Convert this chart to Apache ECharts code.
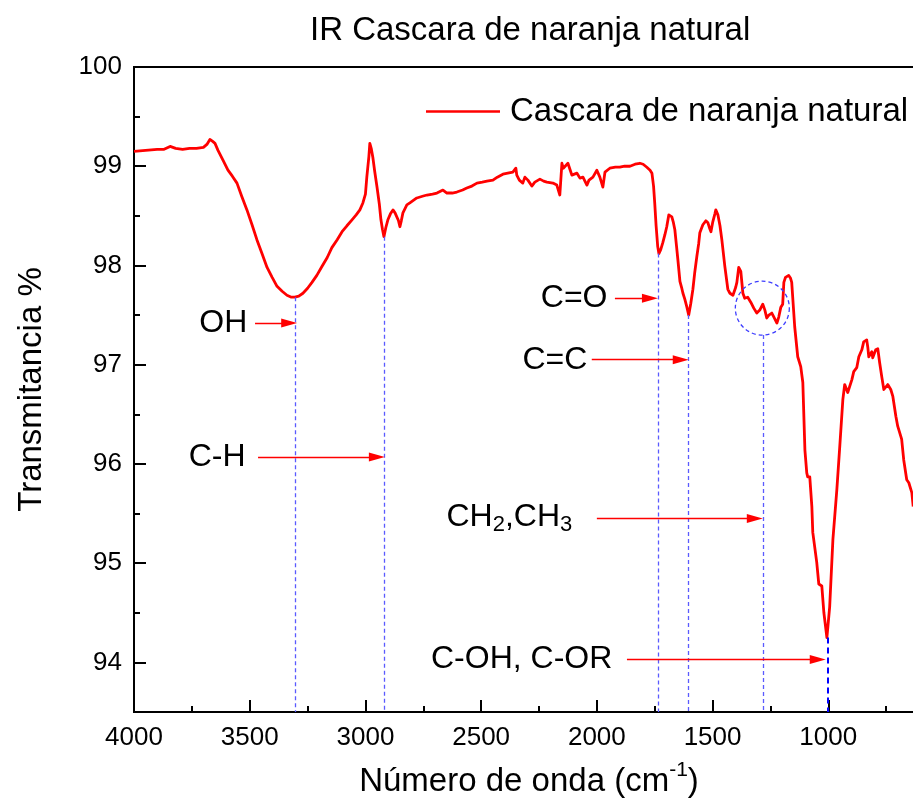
<!DOCTYPE html>
<html>
<head>
<meta charset="utf-8">
<script src="https://cdn.jsdelivr.net/npm/echarts@6/dist/echarts.min.js"></script>
<style>html,body{margin:0;padding:0;background:#fff;}#c{width:913px;height:808px;}</style>
</head>
<body>
<div id="c"></div>
<script>
// ---- data ----
const wavenumber = [4000,3950,3900,3870,3844,3820,3790,3760,3730,3700,3685,3672,3660,3650,3637,3615,3594,3575,3555,3535,3512,3490,3469,3447,3425,3403,3382,3360,3339,3320,3305,3288,3270,3250,3231,3210,3188,3165,3145,3122,3101,3080,3058,3040,3024,3011,3000,2994,2985,2981,2975,2968,2960,2950,2940,2933,2926,2920,2912,2903,2892,2881,2872,2864,2857,2851,2845,2838,2821,2808,2778,2750,2734,2710,2691,2665,2648,2625,2605,2580,2562,2540,2518,2495,2475,2449,2430,2406,2385,2363,2350,2346,2335,2320,2311,2298,2281,2268,2246,2230,2216,2190,2173,2160,2151,2145,2138,2125,2115,2108,2086,2073,2060,2043,2034,2017,2000,1987,1974,1965,1944,1920,1901,1880,1857,1835,1814,1800,1784,1770,1762,1755,1750,1744,1737,1732,1724,1715,1706,1698,1689,1682,1676,1670,1663,1656,1650,1641,1634,1628,1620,1611,1603,1594,1585,1577,1568,1560,1555,1542,1529,1520,1512,1507,1499,1490,1486,1477,1468,1460,1447,1434,1425,1412,1400,1395,1387,1378,1369,1361,1348,1335,1322,1309,1296,1283,1274,1266,1257,1244,1235,1222,1214,1205,1197,1192,1185,1179,1171,1163,1158,1145,1132,1119,1110,1101,1093,1089,1080,1071,1067,1050,1041,1028,1019,1006,994,980,963,950,937,929,916,898,890,877,868,855,847,834,829,825,812,808,795,786,778,769,760,752,743,730,721,708,700,683,674,661,652,639,633];
const transmittance = [99.15,99.16,99.17,99.17,99.20,99.18,99.17,99.18,99.18,99.19,99.22,99.27,99.25,99.23,99.16,99.06,98.96,98.90,98.83,98.70,98.56,98.41,98.26,98.12,97.98,97.88,97.79,97.74,97.70,97.68,97.68,97.69,97.72,97.77,97.83,97.90,97.99,98.08,98.18,98.26,98.34,98.40,98.46,98.51,98.56,98.63,98.72,98.89,99.10,99.23,99.18,99.09,98.95,98.79,98.62,98.46,98.36,98.29,98.38,98.46,98.52,98.56,98.53,98.51,98.45,98.39,98.45,98.53,98.61,98.63,98.68,98.70,98.71,98.72,98.73,98.76,98.73,98.73,98.74,98.76,98.78,98.80,98.83,98.84,98.85,98.86,98.89,98.92,98.93,98.94,98.98,98.91,98.86,98.83,98.89,98.86,98.80,98.84,98.87,98.85,98.84,98.83,98.81,98.71,99.03,98.98,98.96,99.03,98.96,98.91,98.93,98.88,98.89,98.81,98.86,98.89,98.96,98.89,98.79,98.94,98.98,98.99,98.99,99.00,99.00,99.02,99.03,99.02,98.99,98.96,98.93,98.80,98.63,98.40,98.19,98.12,98.16,98.23,98.31,98.39,98.51,98.51,98.49,98.44,98.36,98.20,98.06,97.84,97.78,97.72,97.66,97.58,97.50,97.62,97.76,97.93,98.09,98.22,98.33,98.41,98.45,98.43,98.37,98.34,98.44,98.52,98.56,98.51,98.40,98.26,97.99,97.76,97.72,97.70,97.78,97.83,97.98,97.94,97.72,97.67,97.68,97.63,97.57,97.52,97.55,97.61,97.55,97.47,97.50,97.52,97.48,97.42,97.48,97.58,97.61,97.83,97.88,97.89,97.90,97.87,97.83,97.38,97.08,96.98,96.82,96.14,95.91,95.87,95.87,95.57,95.31,95.01,94.79,94.77,94.50,94.25,94.56,95.24,95.74,96.19,96.65,96.80,96.72,96.85,96.93,96.97,97.08,97.15,97.23,97.25,97.17,97.08,97.13,97.07,97.15,97.16,97.02,96.88,96.75,96.73,96.80,96.75,96.68,96.48,96.38,96.25,96.04,95.84,95.81,95.71,95.57];

const seriesName = 'Cascara de naranja natural';
const chartTitle = 'IR Cascara de naranja natural';
const xTitle = '{n|Número de onda (cm}{p|-1}{n|)}';
const yTitle = 'Transmitancia %';

// annotations (data coordinates)
const peakW    = [3305, 2920, 1736, 1603, 1283, 1003];
const peakTopT = [97.68, 98.29, 98.12, 97.50, 97.30, 94.25];
const annLabels = ['OH', 'C-H', 'C=O', 'C=C', '{a|CH}{b|2}{a|,CH}{b|3}', 'C-OH, C-OR'];
const annLabelW = [3508, 3516, 1952, 2039, 2104, 1931];
const annStartW = [3477, 3464, 1922, 2022, 2000, 1870];
const annTipW   = [3295, 2916, 1736, 1603, 1283, 1011];
const annT      = [97.42, 96.07, 97.67, 97.05, 95.45, 94.03];
const circleCenter = [1285, 97.57];

// ---- layout ----
const W = 913;
const xMin = 500, xMax = 4000, yMin = 93.5, yMax = 100;
const gridLeft = 134, gridRight = -31, gridTop = 67, gridBottom = 96;
const gridW = W - gridLeft - gridRight;
const wPerPx = (xMax - xMin) / gridW;
const headLen = 16;
const FONT = "'Liberation Sans', Arial, Helvetica, sans-serif";

const lineData = wavenumber.map((w, i) => [w, transmittance[i]]);

const mlData = [];
peakW.forEach((w, i) => {
  const last = i === peakW.length - 1;
  const ls = last ? {color: '#0000ff', width: 2, type: [6, 4], opacity: 1}
                  : {color: '#5a5aff', width: 1.3, type: [4, 3], opacity: 1};
  mlData.push([{coord: [w, peakTopT[i]], symbol: 'none', lineStyle: ls},
               {coord: [w, yMin], symbol: 'none', lineStyle: ls}]);
});
annTipW.forEach((w, i) => {
  const endW = w + wPerPx * headLen / 2;
  const ls = {color: '#ff0000', width: 1.3, type: 'solid', opacity: 1};
  mlData.push([{coord: [annStartW[i], annT[i]], symbol: 'none', lineStyle: ls},
               {coord: [endW, annT[i]], symbol: 'triangle', symbolSize: [9, headLen], lineStyle: ls, itemStyle: {color: '#ff0000'}}]);
});

const mpData = [{
  coord: circleCenter, symbol: 'circle', symbolSize: 54,
  itemStyle: {color: 'rgba(0,0,0,0)', borderColor: '#3d3dff', borderWidth: 1.3, borderType: [4, 3]},
  label: {show: false}
}];
annLabels.forEach((t, i) => {
  mpData.push({
    coord: [annLabelW[i], annT[i]], symbol: 'rect', symbolSize: 1,
    itemStyle: {color: 'rgba(0,0,0,0)'},
    label: {
      show: true, position: 'left', distance: 0, formatter: t,
      color: '#000', fontSize: 32, fontFamily: FONT,
      rich: {
        a: {fontSize: 32, fontFamily: FONT, color: '#000', verticalAlign: 'top', lineHeight: 34},
        b: {fontSize: 22, fontFamily: FONT, color: '#000', verticalAlign: 'bottom', padding: [20, 0, 0, 0], lineHeight: 22}
      }
    }
  });
});

const chart = echarts.init(document.getElementById('c'), null, {renderer: 'canvas'});
chart.setOption({
  animation: false,
  backgroundColor: '#fff',
  textStyle: {fontFamily: FONT},
  title: {
    text: chartTitle, left: 310, top: 14, padding: 0,
    textStyle: {fontSize: 33, fontWeight: 'normal', color: '#000', fontFamily: FONT}
  },
  legend: {
    data: [seriesName], left: 426, top: 95, padding: 0,
    icon: 'rect', itemWidth: 74, itemHeight: 2.5,
    itemStyle: {color: '#ff0000', borderWidth: 0},
    textStyle: {fontSize: 33, color: '#000', fontFamily: FONT, padding: [0, 0, 0, 5]}
  },
  grid: {left: gridLeft, right: gridRight, top: gridTop, bottom: gridBottom,
         outerBoundsMode: 'none', containLabel: false,
         show: true, borderColor: '#000', borderWidth: 2, backgroundColor: 'rgba(0,0,0,0)'},
  xAxis: {
    type: 'value', inverse: true, min: xMin, max: xMax, interval: 500,
    name: xTitle, nameLocation: 'middle', nameGap: 48,
    nameTextStyle: {
      fontSize: 33, color: '#000', fontFamily: FONT, padding: [0, 20, 0, 0],
      rich: {
        n: {fontSize: 33, fontFamily: FONT, color: '#000', verticalAlign: 'bottom', lineHeight: 38},
        p: {fontSize: 21, fontFamily: FONT, color: '#000', verticalAlign: 'top', lineHeight: 38}
      }
    },
    axisLine: {show: true, lineStyle: {color: '#000', width: 2}},
    axisTick: {show: true, inside: true, length: 12, lineStyle: {color: '#000', width: 2}},
    minorTick: {show: true, splitNumber: 2, length: 6, lineStyle: {color: '#000', width: 2}},
    axisLabel: {fontSize: 26, color: '#000', margin: 13, fontFamily: FONT,
                formatter: v => (v >= 1000 ? String(v) : '')},
    splitLine: {show: false}
  },
  yAxis: {
    type: 'value', min: yMin, max: yMax, splitNumber: 6,
    name: yTitle, nameLocation: 'middle', nameGap: 86,
    nameTextStyle: {fontSize: 33, color: '#000', fontFamily: FONT},
    axisLine: {show: true, lineStyle: {color: '#000', width: 2}},
    axisTick: {show: true, inside: true, length: 12, lineStyle: {color: '#000', width: 2}},
    minorTick: {show: true, splitNumber: 2, length: 6, lineStyle: {color: '#000', width: 2}},
    axisLabel: {fontSize: 26, color: '#000', margin: 12, fontFamily: FONT,
                formatter: v => (Number.isInteger(v) ? String(v) : '')},
    splitLine: {show: false}
  },
  series: [{
    name: seriesName, type: 'line', data: lineData, symbol: 'none', smooth: false,
    lineStyle: {color: '#ff0000', width: 2.8, join: 'round'},
    itemStyle: {color: '#ff0000'},
    z: 3,
    markLine: {silent: true, animation: false, symbol: 'none', label: {show: false}, data: mlData},
    markPoint: {silent: true, animation: false, data: mpData}
  }]
});
</script>
</body>
</html>
